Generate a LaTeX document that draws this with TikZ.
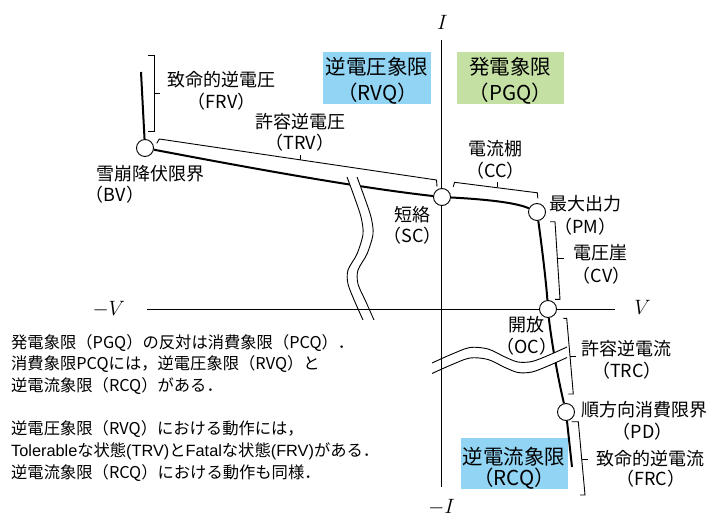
\documentclass[tikz,border=0pt]{standalone}
\usepackage{fontspec}
\setmainfont{Noto Sans CJK JP}
\newfontfamily\latinfont{Liberation Sans}
\definecolor{blueq}{RGB}{146,212,244}
\definecolor{greenq}{RGB}{197,224,163}
\pgfdeclarelayer{bg}
\pgfsetlayers{bg,main}
\begin{document}
\begin{tikzpicture}[x=1pt,y=-1pt,
  curve/.style={line width=2pt},
  thinl/.style={line width=0.9pt},
  axisl/.style={line width=1pt},
  kpt/.style={circle,draw,fill=white,line width=0.9pt,minimum size=17pt,inner sep=0pt},
  lbl/.style={font=\fontsize{18pt}{20pt}\selectfont,inner sep=0pt},
  para/.style={font=\fontsize{16.3pt}{20pt}\selectfont,inner sep=0pt,anchor=base west},
  qtxt/.style={font=\fontsize{20.5pt}{22pt}\selectfont,inner sep=0pt},
  qbox/.style={draw=none,inner sep=0pt},
  axlab/.style={font=\fontsize{22pt}{24pt}\selectfont,inner sep=0pt}]
\useasboundingbox (0,0) rectangle (709,519);

% key points
\node[kpt] (BV) at (145,148) {};
\node[kpt] (SC) at (442,197) {};
\node[kpt] (PM) at (537,212) {};
\node[kpt] (OC) at (548,309) {};
\node[kpt] (PD) at (566,412) {};
\coordinate (FRVtop) at (141,72);
\coordinate (FRCend) at (572,467);
\coordinate (Vneg) at (147,309);
\coordinate (Vpos) at (615,309);
\coordinate (Itop) at (441.5,40);
\coordinate (Ibot) at (441.5,487);

\begin{pgfonlayer}{bg}
  \node[qbox,fill=blueq,minimum width=108.3pt,minimum height=51.7pt] (RVQbox) at (376.85,78.15) {};
  \node[qbox,fill=greenq,minimum width=107.6pt,minimum height=51.7pt] (PGQbox) at (510.5,78.15) {};
  \node[qbox,fill=blueq,minimum width=106.7pt,minimum height=51pt] (RCQbox) at (514.35,463.8) {};
  % characteristic curve
  \draw[curve] (FRVtop) -- (BV);
  \draw[curve] (BV) .. controls (250,168) and (360,188) .. (SC);
  \draw[curve] (SC) .. controls (480,199) and (515,202) .. (PM);
  \draw[curve] (PM) .. controls (541,240) and (546,280) .. (OC);
  \draw[curve] (OC) .. controls (550,330) and (556,370) .. (PD);
  \draw[curve] (PD) -- (FRCend);
  % break gaps
  \fill[white] plot[smooth] coordinates {(347,177) (354,196) (361,217) (363,234) (357,254) (348,270) (348,284) (355,302) (363,320)}
     -- plot[smooth] coordinates {(374,320) (366,302) (358,284) (358,270) (367,254) (373,234) (371,217) (364,196) (357,177)} -- cycle;
  \fill[white] plot[smooth] coordinates {(432,363) (451,354.5) (470,347.5) (488,349) (505,357) (518,362) (532,361.5) (548,355.5) (567,347)}
     -- plot[smooth] coordinates {(567,357.5) (548,366) (532,372) (518,372.5) (505,367.5) (488,359.5) (470,358) (451,365) (432,373.5)} -- cycle;
  % axes
  \draw[axisl] (Vneg) -- (Vpos);
  \draw[axisl] (Itop) -- (Ibot);
  % break lines
  \draw[thinl] plot[smooth] coordinates {(347,177) (354,196) (361,217) (363,234) (357,254) (348,270) (348,284) (355,302) (363,320)};
  \draw[thinl] plot[smooth] coordinates {(357,177) (364,196) (371,217) (373,234) (367,254) (358,270) (358,284) (366,302) (374,320)};
  \draw[thinl] plot[smooth] coordinates {(432,363) (451,354.5) (470,347.5) (488,349) (505,357) (518,362) (532,361.5) (548,355.5) (567,347)};
  \draw[thinl] plot[smooth] coordinates {(432,373.5) (451,365) (470,358) (488,359.5) (505,367.5) (518,372.5) (532,372) (548,366) (567,357.5)};
\end{pgfonlayer}

% brackets
\draw[thinl] (148.3,55) -- (154,55) -- (154,131) -- (148.3,131);
\draw[thinl] (154,93) -- (160,93);
\draw[thinl] (156.7,143.3) -- (159.3,139) -- (436.5,180) -- (437,186.5);
\draw[thinl] (300,159.7) -- (300,154.5);
\draw[thinl] (453.3,186.7) -- (454.5,182.3) -- (537.3,192.8) -- (537.8,198.3);
\draw[thinl] (497,187.4) -- (497,182.2);
\draw[thinl] (550,221.7) -- (555,221.7) -- (560,299.3) -- (555,299.3);
\draw[thinl] (557.4,258.3) -- (564,258.3);
\draw[thinl] (563.3,318.3) -- (566.7,318.3) -- (573.3,394) -- (568.3,394);
\draw[thinl] (570,356) -- (575.5,356);
\draw[thinl] (571.7,421.7) -- (578.3,421.7) -- (585,495) -- (580,495);
\draw[thinl] (581.7,459.3) -- (588.3,459.3);

% axis labels
\node[axlab] (Ilab) at (442.5,22.5) {$I$};
\node[axlab] (mIlab) at (441.7,507) {$-I$};
\node[axlab] (Vlab) at (642.5,307) {$V$};
\node[axlab] (mVlab) at (108.8,309) {$-V$};

% quadrant texts
\node[qtxt] (RVQa) at (376.8,67) {逆電圧象限};
\node[qtxt] (RVQb) at (377.5,93.3) {（RVQ）};
\node[qtxt] (PGQa) at (510.3,67) {発電象限};
\node[qtxt] (PGQb) at (510.3,93.3) {（PGQ）};
\node[qtxt] (RCQa) at (514,456.7) {逆電流象限};
\node[qtxt] (RCQb) at (514,479) {（RCQ）};

% point / region labels
\node[lbl] (FRVa) at (221.5,80) {致命的逆電圧};
\node[lbl] (FRVb) at (221.5,101.5) {（FRV）};
\node[lbl] (TRVa) at (300,121.5) {許容逆電圧};
\node[lbl] (TRVb) at (300,143) {（TRV）};
\node[lbl] (BVa) at (150,174) {雪崩降伏限界};
\node[lbl] (BVb) at (115,195) {（BV）};
\node[lbl] (CCa) at (495.5,149) {電流棚};
\node[lbl] (CCb) at (495.5,170.7) {（CC）};
\node[lbl] (SCa) at (412.5,215) {短絡};
\node[lbl] (SCb) at (412.5,235.7) {（SC）};
\node[lbl] (PMa) at (585,204) {最大出力};
\node[lbl] (PMb) at (585,226.5) {（PM）};
\node[lbl] (CVa) at (600,253) {電圧崖};
\node[lbl] (CVb) at (601.5,275.5) {（CV）};
\node[lbl] (OCa) at (526.7,325) {開放};
\node[lbl] (OCb) at (526.7,347) {（OC）};
\node[lbl] (TRCa) at (626,349) {許容逆電流};
\node[lbl] (TRCb) at (627,370.7) {（TRC）};
\node[lbl] (PDa) at (644.5,410) {順方向消費限界};
\node[lbl] (PDb) at (642.5,431.7) {（PD）};
\node[lbl] (FRCa) at (650,459) {致命的逆電流};
\node[lbl] (FRCb) at (651,479) {（FRC）};

% explanatory text
\node[para] (L1) at (11,348) {発電象限（PGQ）の反対は消費象限（PCQ）．};
\node[para] (L2) at (11,369.7) {消費象限PCQには，逆電圧象限（RVQ）と};
\node[para] (L3) at (11,391.4) {逆電流象限（RCQ）がある．};
\node[para] (L4) at (11,434.7) {逆電圧象限（RVQ）における動作には，};
\node[para] (L5) at (11,456.4) {{\latinfont Tolerable}な状態{\latinfont (TRV)}と{\latinfont Fatal}な状態{\latinfont (FRV)}がある．};
\node[para] (L6) at (11,478.1) {逆電流象限（RCQ）における動作も同様．};
\end{tikzpicture}
\end{document}
